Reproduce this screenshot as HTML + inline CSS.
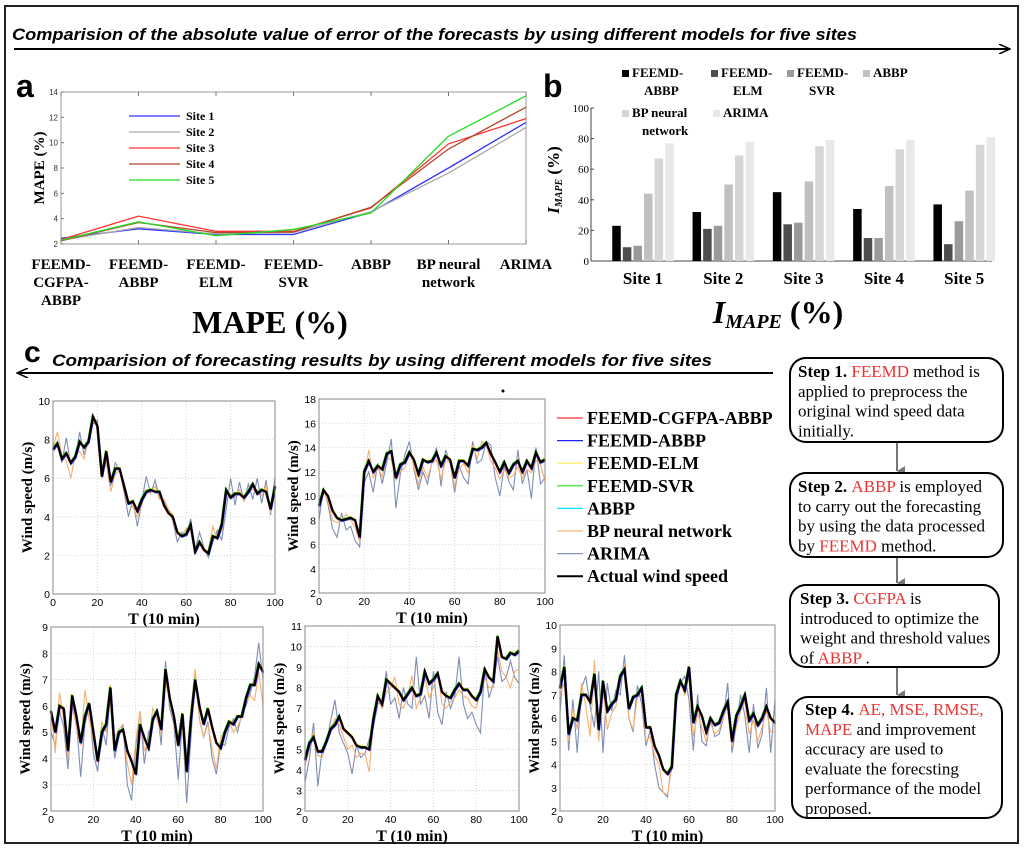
<!DOCTYPE html>
<html><head><meta charset="utf-8">
<style>
html,body{margin:0;padding:0;background:#fff;}
svg{display:block;}
.sans{font-family:"Liberation Sans",sans-serif;}
.serif{font-family:"Liberation Serif",serif;}
</style></head>
<body>
<svg id="root" width="1024" height="850" viewBox="0 0 1024 850" xmlns="http://www.w3.org/2000/svg">
<defs>
<marker id="arrR" markerWidth="12" markerHeight="10" refX="11" refY="5" orient="auto" markerUnits="userSpaceOnUse"><path d="M0,0 L11,5 L0,10" fill="none" stroke="#000" stroke-width="1.5"/></marker>
<marker id="arrG" markerWidth="10" markerHeight="10" refX="5" refY="8" orient="auto" markerUnits="userSpaceOnUse"><path d="M0,0 L5,8 L10,0" fill="#777"/></marker>
</defs>
<rect x="5" y="6" width="1013" height="837" fill="none" stroke="#222" stroke-width="2"/>
<text x="12" y="40" class="sans" font-size="16.5" font-weight="bold" font-style="italic" textLength="845" lengthAdjust="spacingAndGlyphs">Comparision of the absolute value of error of the forecasts by using different models for five sites</text>
<line x1="14" y1="49" x2="1010" y2="49" stroke="#000" stroke-width="2" marker-end="url(#arrR)"/>
<text x="16" y="97" class="sans" font-size="32" font-weight="bold">a</text>
<text x="543" y="97" class="sans" font-size="32" font-weight="bold">b</text>
<text x="24" y="362" class="sans" font-size="30" font-weight="bold">c</text>
<text x="52" y="366" class="sans" font-size="16.5" font-weight="bold" font-style="italic" textLength="660" lengthAdjust="spacingAndGlyphs">Comparision of  forecasting results by using different models for five sites</text>
<line x1="773" y1="373" x2="17" y2="373" stroke="#000" stroke-width="2" marker-end="url(#arrR)"/>
<g id="pa"></g><g id="pb"></g><g id="pc"></g><g id="flow"></g>
</svg>
<script>
const NS="http://www.w3.org/2000/svg";
function mk(parent,tag,attrs,text){const e=document.createElementNS(NS,tag);for(const k in attrs)e.setAttribute(k,attrs[k]);if(text!==undefined)e.textContent=text;parent.appendChild(e);return e;}

/* ---------- Panel a data ---------- */
const aCategories=[["FEEMD-","CGFPA-","ABBP"],["FEEMD-","ABBP"],["FEEMD-","ELM"],["FEEMD-","SVR"],["ABBP"],["BP neural","network"],["ARIMA"]];
const aSite1=[2.45,3.2,2.75,2.75,4.5,8.0,11.6];
const aSite2=[2.3,3.3,2.8,2.9,4.55,7.6,11.2];
const aSite3=[2.35,4.2,3.0,3.0,4.85,9.9,11.9];
const aSite4=[2.25,3.7,2.9,2.95,4.9,9.5,12.8];
const aSite5=[2.3,3.75,2.65,3.15,4.45,10.5,13.7];
const aTicks=[2,4,6,8,10,12,14];

/* ---------- Panel b data ---------- */
const bSites=["Site 1","Site 2","Site 3","Site 4","Site 5"];
const bFEEMD_ABBP=[23,32,45,34,37];
const bFEEMD_ELM=[9,21,24,15,11];
const bFEEMD_SVR=[10,23,25,15,26];
const bABBP=[44,50,52,49,46];
const bBP=[67,69,75,73,76];
const bARIMA=[77,78,79,79,81];
const bTicks=[0,20,40,60,80,100];

/* ---------- Panel c data (x = 0,2,...,100) ---------- */
const p1Actual=[7.5,7.8,7.0,7.3,6.8,7.1,7.9,7.6,7.9,9.2,8.7,6.1,7.4,5.8,6.5,6.5,5.6,4.7,4.8,4.3,4.9,5.3,5.4,5.3,5.3,4.6,4.2,4.0,3.2,3.0,3.1,3.6,2.2,2.7,2.3,2.1,3.0,2.9,3.6,5.4,5.0,5.2,5.2,5.0,5.3,5.7,5.2,5.4,5.3,4.4,5.6];
const p1Arima=[7.5,7.9,6.8,8.1,6.7,7.0,8.4,7.2,8.1,8.8,9.0,6.3,6.8,5.6,6.8,6.4,5.3,4.0,4.9,3.5,4.8,6.1,5.2,5.9,5.0,4.8,4.3,3.8,2.7,3.2,3.0,3.9,2.3,3.2,2.4,1.9,2.7,3.3,2.8,4.4,6.0,4.6,5.8,4.8,5.7,4.9,6.0,4.7,5.9,4.1,6.1];
const p1BP=[7.6,8.4,7.2,6.9,6.0,7.2,7.4,7.0,8.0,9.0,8.8,6.2,6.8,5.3,6.2,6.4,5.8,4.9,4.5,4.0,4.6,5.4,5.2,5.6,4.9,4.9,4.4,4.1,3.1,3.0,3.4,3.3,2.1,2.6,2.2,2.3,3.5,2.8,3.3,5.3,5.2,5.0,5.4,4.8,5.4,5.4,5.4,5.1,5.6,4.2,5.4];
const p2Actual=[9.2,10.5,10.0,8.8,8.2,8.0,8.1,8.2,8.0,6.6,12.0,12.9,12.0,12.5,12.2,13.5,13.7,11.5,12.6,12.8,13.6,13.0,11.8,13.0,12.8,12.9,13.6,12.5,13.3,13.0,11.5,12.9,12.9,12.5,13.9,13.8,14.0,14.4,13.5,12.8,12.0,12.8,11.9,12.6,12.9,12.0,12.9,12.3,13.6,12.8,13.0];
const p2Arima=[8.0,10.7,9.3,7.3,6.6,8.6,7.2,7.5,6.3,5.8,11.1,12.0,10.3,12.7,11.0,12.8,14.7,9.0,11.8,13.4,14.5,12.2,10.5,12.0,11.0,12.8,14.0,10.8,13.8,12.8,10.3,12.5,11.5,11.0,14.5,12.7,13.0,14.5,14.2,11.5,10.0,12.5,11.2,10.5,13.8,11.0,12.2,9.8,14.0,11.0,11.5];
const p2BP=[9.0,10.6,9.5,8.0,7.8,8.0,8.5,8.0,7.4,6.2,11.5,13.8,11.5,12.3,11.6,13.2,13.0,11.3,12.0,12.3,13.8,12.4,11.0,12.4,11.5,12.7,13.0,11.4,12.9,12.8,10.8,12.2,12.7,11.9,14.2,13.1,14.5,14.2,12.9,12.3,11.4,12.2,11.5,11.7,12.4,11.5,12.2,11.9,12.9,12.6,11.2];
const p3Actual=[5.8,5.0,6.0,5.9,4.3,6.4,5.6,4.6,5.6,6.1,5.0,3.9,5.0,5.3,6.7,4.3,5.0,5.1,4.3,3.9,3.4,5.3,4.8,4.4,5.5,5.8,5.1,7.4,6.3,5.6,4.5,5.7,3.5,5.5,7.0,6.0,5.3,5.9,5.2,4.6,4.4,5.0,5.4,5.3,5.6,5.6,6.3,6.8,6.8,7.6,7.3];
const p3Arima=[5.0,4.5,5.8,5.2,3.6,6.2,5.4,3.3,5.3,6.0,4.2,3.5,5.2,4.5,6.5,4.0,4.8,5.3,3.0,2.4,4.5,5.8,3.8,5.0,5.3,5.9,4.5,7.7,5.9,5.3,3.2,5.5,2.3,4.8,7.2,5.5,4.8,5.4,4.0,3.4,4.6,4.5,5.2,5.5,5.0,5.7,6.0,6.5,7.1,8.4,7.0];
const p3BP=[5.9,4.2,6.5,5.5,4.0,6.0,5.2,4.5,6.6,5.5,4.7,4.0,5.4,5.0,6.8,4.8,5.1,5.3,3.8,3.0,4.7,5.8,4.3,4.6,5.9,5.5,4.9,6.9,6.2,5.6,4.6,5.2,3.6,5.9,7.4,5.5,4.8,5.3,4.4,3.6,4.8,5.0,5.4,5.0,5.2,5.6,6.1,6.4,6.2,7.3,6.0];
const p4Actual=[4.5,5.3,5.6,4.9,4.9,5.4,6.0,6.2,6.6,6.0,5.8,5.6,5.2,5.1,5.1,5.0,6.5,7.6,7.2,8.4,8.2,8.0,7.8,7.4,7.7,8.0,7.6,7.7,8.8,8.2,8.4,8.7,7.8,7.6,7.5,7.9,8.2,7.9,7.9,7.6,7.4,7.8,8.9,8.5,8.3,10.5,9.5,9.4,9.7,9.6,9.8];
const p4Arima=[3.4,4.5,6.3,3.2,5.0,5.3,6.4,7.4,5.8,5.3,4.8,3.8,5.2,4.6,4.8,5.5,6.1,7.2,7.3,8.8,7.2,7.5,6.5,8.0,7.2,7.0,9.5,7.2,7.6,6.5,8.8,6.8,6.2,7.8,7.0,7.6,9.5,7.2,6.5,6.8,6.2,5.8,9.0,7.5,8.2,9.5,8.3,8.5,9.3,8.5,8.2];
const p4BP=[4.2,5.0,5.9,4.7,4.6,5.3,6.0,6.5,6.2,5.6,5.0,5.2,4.6,4.8,4.8,3.9,6.3,7.5,7.0,7.8,8.0,8.5,7.2,7.0,7.6,8.6,7.0,7.5,8.5,7.5,8.0,8.8,7.2,7.0,7.3,7.5,7.9,7.6,7.5,7.1,7.0,7.8,8.5,8.0,8.0,9.8,8.8,8.5,8.0,8.8,8.9];
const p5Actual=[7.3,8.2,5.3,6.0,5.9,7.0,7.0,6.7,7.9,5.5,7.6,6.3,6.6,6.8,7.8,8.1,6.4,6.9,7.0,7.3,5.6,5.6,4.8,4.4,3.8,3.6,3.9,7.0,7.6,7.2,8.2,5.8,6.5,6.1,5.4,6.0,5.7,5.8,6.3,6.7,5.0,6.1,6.5,7.0,5.9,6.2,5.7,6.0,6.5,6.0,5.8];
const p5Arima=[6.2,8.7,4.6,6.8,4.5,7.3,7.8,6.5,5.6,8.0,4.5,7.5,6.3,7.2,7.0,8.7,6.0,5.4,7.4,6.6,4.8,5.5,4.0,3.0,2.8,2.6,4.2,6.6,7.5,7.8,6.8,4.6,7.0,5.0,4.8,6.0,5.2,5.3,6.0,7.5,4.5,5.7,7.0,6.1,4.5,6.6,4.7,5.3,7.3,4.5,6.8];
const p5BP=[7.0,7.5,5.0,6.4,5.5,7.5,6.5,5.2,8.5,5.0,7.3,5.5,6.2,6.5,7.6,8.3,6.0,5.5,6.9,7.0,5.0,5.2,4.4,4.0,2.8,2.7,3.9,6.8,7.5,7.0,7.8,5.2,6.2,5.6,5.0,5.8,5.3,5.5,6.0,6.6,4.8,5.6,6.3,6.7,5.3,5.9,5.0,5.6,6.3,5.4,5.4];
const cXTicks=[0,20,40,60,80,100];
const cModels=["FEEMD-CGFPA-ABBP","FEEMD-ABBP","FEEMD-ELM","FEEMD-SVR","ABBP","BP neural network","ARIMA","Actual wind speed"];

/* ---------- Panel a ---------- */
(function(){
  const g=document.getElementById('pa');
  const L=61,R=526,T=92,B=244,ymin=2,ymax=14;
  const X=i=>L+i*(R-L)/(aCategories.length-1);
  const Y=v=>B-(v-ymin)/(ymax-ymin)*(B-T);
  const box=mk(g,'rect',{x:L,y:T,width:R-L,height:B-T,fill:'none',stroke:'#999','stroke-width':1});
  
  
  aTicks.forEach(t=>{
    mk(g,'line',{x1:L,x2:L+3,y1:Y(t),y2:Y(t),stroke:'#777'});
    const tl=mk(g,'text',{x:L-3,y:Y(t)+3,'text-anchor':'end','font-size':8,class:'sans',fill:'#333'},t);
    
    
  });
  aCategories.forEach((c,i)=>{
    mk(g,'line',{x1:X(i),x2:X(i),y1:T,y2:T+4,stroke:'#777'});
    mk(g,'line',{x1:X(i),x2:X(i),y1:B,y2:B-4,stroke:'#777'});
    c.forEach((ln,j)=>{
      const t=mk(g,'text',{x:X(i),y:269+j*18,'text-anchor':'middle','font-size':15,'font-weight':'bold',class:'serif'},ln);
      
      
    });
  });
  const yl=mk(g,'text',{x:0,y:0,transform:'translate(44,168) rotate(-90)','text-anchor':'middle','font-size':15,'font-weight':'bold',class:'serif'},'MAPE (%)');
  
  
  const xt=mk(g,'text',{x:270,y:333,'text-anchor':'middle','font-size':32,'font-weight':'bold',class:'serif'},'MAPE (%)');
  
  
  const series=[[aSite1,'#3333ff','Site 1'],[aSite2,'#aaaaaa','Site 2'],[aSite3,'#ff3333','Site 3'],[aSite4,'#b5452a','Site 4'],[aSite5,'#22dd22','Site 5']];
  series.forEach((s,k)=>{
    const p=mk(g,'polyline',{points:s[0].map((v,i)=>X(i)+','+Y(v)).join(' '),fill:'none',stroke:s[1],'stroke-width':1.3});
    
    
    const ly=116+k*16;
    const ll=mk(g,'line',{x1:129,x2:180,y1:ly,y2:ly,stroke:s[1],'stroke-width':1.3});
    
    
    const lt=mk(g,'text',{x:186,y:ly+4,'font-size':12,'font-weight':'bold',class:'serif'},s[2]);
    
    
  });
})();

/* ---------- Panel b ---------- */
(function(){
  const g=document.getElementById('pb');
  const L=591,R=992,T=108,B=261;
  const Y=v=>B-v/100*(B-T);
  const series=[bFEEMD_ABBP,bFEEMD_ELM,bFEEMD_SVR,bABBP,bBP,bARIMA];
  const cols=['#000','#4e4e4e','#9a9a9a','#c0c0c0','#d6d6d6','#e8e8e8'];
  const bw=8.5,step=10.6,gap=80.3,c0=643;
  mk(g,'line',{x1:L,x2:R,y1:B,y2:B,stroke:'#444','stroke-width':1});
  mk(g,'line',{x1:L,x2:L,y1:T,y2:B,stroke:'#444','stroke-width':1});
  bTicks.forEach(t=>{
    mk(g,'line',{x1:L,x2:L+3,y1:Y(t),y2:Y(t),stroke:'#444'});
    const tl=mk(g,'text',{x:L-2,y:Y(t)+4,'text-anchor':'end','font-size':11,class:'serif'},t);
    
    
  });
  bSites.forEach((s,i)=>{
    const cx=c0+i*gap;
    series.forEach((arr,k)=>{
      const x=cx-3*step+k*step+(step-bw)/2;
      const r=mk(g,'rect',{x:x,y:Y(arr[i]),width:bw,height:B-Y(arr[i]),fill:cols[k]});
      
      
    });
    const t=mk(g,'text',{x:cx,y:284,'text-anchor':'middle','font-size':17,'font-weight':'bold',class:'serif'},s);
    
    
  });
  const yl=mk(g,'text',{x:0,y:0,transform:'translate(559,180) rotate(-90)','text-anchor':'middle','font-size':17,'font-weight':'bold',class:'serif'});
  
  
  mk(yl,'tspan',{'font-style':'italic'},'I');
  mk(yl,'tspan',{'font-style':'italic','font-size':10,dy:3},'MAPE');
  mk(yl,'tspan',{dy:-3},' (%)');
  const xt=mk(g,'text',{x:778,y:323,'text-anchor':'middle','font-size':32,'font-weight':'bold',class:'serif'});
  
  
  mk(xt,'tspan',{'font-style':'italic'},'I');
  mk(xt,'tspan',{'font-style':'italic','font-size':20,dy:5},'MAPE');
  mk(xt,'tspan',{dy:-5},' (%)');
  const leg=[[622,77,['FEEMD-','ABBP']],[711,77,['FEEMD-','ELM']],[787,77,['FEEMD-','SVR']],[863,77,['ABBP']],[622,117,['BP neural','network']],[713,117,['ARIMA']]];
  leg.forEach((l,k)=>{
    const sq=mk(g,'rect',{x:l[0],y:l[1]-7,width:7,height:7,fill:cols[k]});
    
    
    l[2].forEach((ln,j)=>{
      const t=mk(g,'text',{x:l[0]+10+(j>0?(k==4?10:12):0),y:l[1]+j*18,'font-size':13,'font-weight':'bold',class:'serif'},ln);
      
      
    });
  });
})();

/* ---------- Panel c ---------- */
(function(){
  const g=document.getElementById('pc');
  const panels=[
    {L:53,R:275,T:401,B:594,ymin:0,ymax:10,ystep:2,act:p1Actual,ari:p1Arima,bp:p1BP,ylx:32},
    {L:319,R:545,T:399,B:593,ymin:2,ymax:18,ystep:2,act:p2Actual,ari:p2Arima,bp:p2BP,ylx:298},
    {L:51,R:263,T:627,B:811,ymin:2,ymax:9,ystep:1,act:p3Actual,ari:p3Arima,bp:p3BP,ylx:30},
    {L:305,R:519,T:626,B:811,ymin:2,ymax:11,ystep:1,act:p4Actual,ari:p4Arima,bp:p4BP,ylx:284},
    {L:560,R:775,T:625,B:811,ymin:2,ymax:10,ystep:1,act:p5Actual,ari:p5Arima,bp:p5BP,ylx:539}
  ];
  panels.forEach((p,pi)=>{
    const X=v=>p.L+v/100*(p.R-p.L);
    const Y=v=>p.B-(v-p.ymin)/(p.ymax-p.ymin)*(p.B-p.T);
    const pg=mk(g,'g',{});
    
    
    mk(pg,'rect',{x:p.L,y:p.T,width:p.R-p.L,height:p.B-p.T,fill:'#fff',stroke:'none'});
    cXTicks.forEach(t=>{
      if(t>0&&t<100)mk(pg,'line',{x1:X(t),x2:X(t),y1:p.T,y2:p.B,stroke:'#ccc','stroke-dasharray':'1,2','stroke-width':0.8});
      const tl=mk(pg,'text',{x:X(t),y:p.B+12,'text-anchor':'middle','font-size':10.5,class:'sans'},t);
      
      
    });
    for(let v=p.ymin;v<=p.ymax+1e-9;v+=p.ystep){
      if(v>p.ymin&&v<p.ymax)mk(pg,'line',{x1:p.L,x2:p.R,y1:Y(v),y2:Y(v),stroke:'#ccc','stroke-dasharray':'1,2','stroke-width':0.8});
      const tl=mk(pg,'text',{x:p.L-3,y:Y(v)+4,'text-anchor':'end','font-size':10.5,class:'sans'},v);
      
      
    }
    const pts=arr=>arr.map((v,i)=>X(i*2)+','+Y(v)).join(' ');
    const a=mk(pg,'polyline',{points:pts(p.ari),fill:'none',stroke:'#7f8db5','stroke-width':1.1});
    
    
    const b=mk(pg,'polyline',{points:pts(p.bp),fill:'none',stroke:'#f7b070','stroke-width':1.1});
    
    
    const fringe=[['#00e5ff',0,1.2],['#ffee00',0,-1.2],['#22dd22',-0.8,-0.8],['#2222ff',0.8,1],['#ff3333',-0.6,0.6]];
    fringe.forEach((f,k)=>{
      const l=mk(pg,'polyline',{points:pts(p.act),fill:'none',stroke:f[0],'stroke-width':1.2,transform:'translate('+f[1]+','+f[2]+')'});
      
      
    });
    const ac=mk(pg,'polyline',{points:pts(p.act),fill:'none',stroke:'#000','stroke-width':2.2});
    
    
    mk(pg,'rect',{x:p.L,y:p.T,width:p.R-p.L,height:p.B-p.T,fill:'none',stroke:'#888','stroke-width':1});
    const yl=mk(pg,'text',{x:0,y:0,transform:'translate('+p.ylx+','+((p.T+p.B)/2)+') rotate(-90)','text-anchor':'middle','font-size':15,'font-weight':'bold',class:'serif'},'Wind speed (m/s)');
    
    
    const xt=mk(pg,'text',{x:(p.L+p.R)/2,y:p.B+30,'text-anchor':'middle','font-size':16,'font-weight':'bold',class:'serif'},'T (10 min)');
    
    
  });
  mk(g,'circle',{cx:503,cy:391,r:1.5,fill:'#000'});
  const lc=['#ff3333','#2222ff','#ffee55','#22dd22','#00e5ff','#f7b070','#8a98bf','#000'];
  cModels.forEach((m,k)=>{
    const y=418+k*22.6;
    const l=mk(g,'line',{x1:557,x2:583,y1:y,y2:y,stroke:lc[k],'stroke-width':k==7?2:1.2});
    
    
    const t=mk(g,'text',{x:587,y:y+6,'font-size':18,'font-weight':'bold',class:'serif'},m);
    
    
  });
})();

/* ---------- Flow boxes ---------- */
(function(){
  const g=document.getElementById('flow');
  const boxes=[
    {x:790,y:358,w:213,h:84,tx:798,ty:372,lines:[[['Step 1. ','b'],['FEEMD','r'],[' method is','n']],[['applied to preprocess the','n']],[['original wind speed data','n']],[['initially.','n']]]},
    {x:790,y:473,w:213,h:84,tx:798,ty:487,lines:[[['Step 2. ','b'],['ABBP','r'],[' is employed','n']],[['to carry out the forecasting','n']],[['by using the data processed','n']],[['by ','n'],['FEEMD','r'],[' method.','n']]]},
    {x:790,y:585,w:209,h:82,tx:800,ty:599,lines:[[['Step 3. ','b'],['CGFPA','r'],[' is','n']],[['introduced to optimize the','n']],[['weight and threshold values','n']],[['of ','n'],['ABBP','r'],[' .','n']]]},
    {x:792,y:697,w:210,h:121,tx:805,ty:710,lines:[[['Step 4. ','b'],['AE, MSE, RMSE,','r']],[['MAPE','r'],[' and  improvement','n']],[['accuracy are used to','n']],[['evaluate the forecsting','n']],[['performance of the model','n']],[['proposed.','n']]]}
  ];
  boxes.forEach((b,i)=>{
    const r=mk(g,'rect',{x:b.x,y:b.y,width:b.w,height:b.h,rx:16,ry:16,fill:'#fff',stroke:'#000','stroke-width':2});
    
    
    b.lines.forEach((ln,j)=>{
      const t=mk(g,'text',{x:b.tx,y:b.ty+j*19.8+5,'font-size':17,class:'serif'});
      
      
      ln.forEach(seg=>{
        const a={};
        if(seg[1]=='b')a['font-weight']='bold';
        if(seg[1]=='r')a['fill']='#ee3333';
        a['xml:space']='preserve';
        mk(t,'tspan',a,seg[0]);
      });
    });
    if(i<3){
      const nb=boxes[i+1];
      const ar=mk(g,'line',{x1:897,x2:897,y1:b.y+b.h+1,y2:nb.y-2,stroke:'#777','stroke-width':2,'marker-end':'url(#arrG)'});
      
      
    }
  });
})();
</script>
</body></html>
